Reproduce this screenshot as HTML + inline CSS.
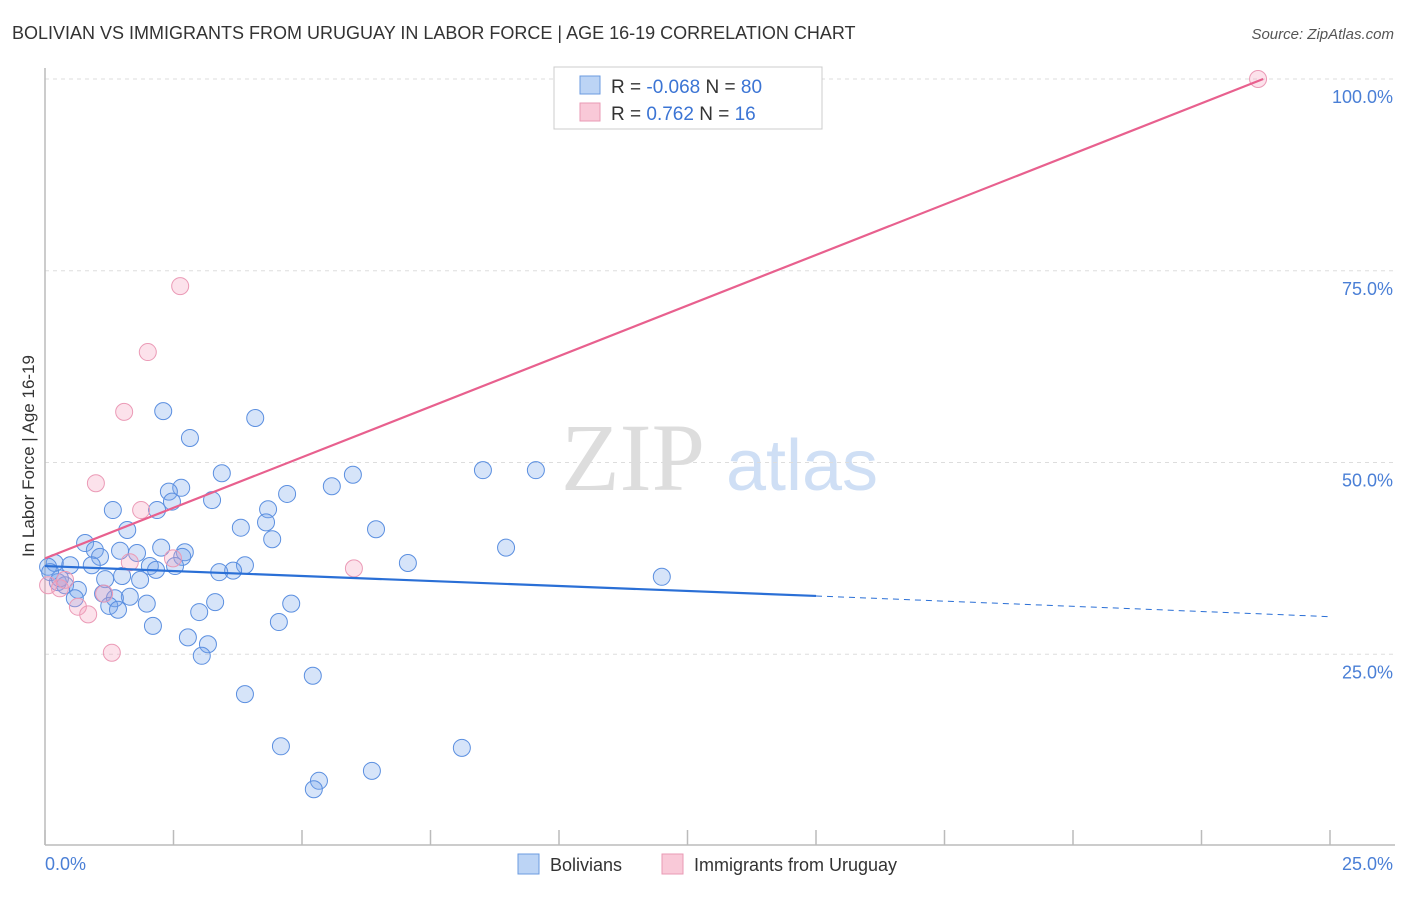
<!DOCTYPE html>
<html><head><meta charset="utf-8"><style>
body{margin:0;background:#fff;font-family:"Liberation Sans",sans-serif;}
</style></head><body>
<svg id="chart" width="1406" height="892" xmlns="http://www.w3.org/2000/svg" font-family="Liberation Sans, sans-serif">
<text x="12" y="39" font-size="18" fill="#333">BOLIVIAN VS IMMIGRANTS FROM URUGUAY IN LABOR FORCE | AGE 16-19 CORRELATION CHART</text>
<text x="1394" y="39" font-size="15" fill="#555" text-anchor="end" font-style="italic">Source: ZipAtlas.com</text>
<g>
<text x="633" y="490" font-size="96" fill="#ddd" text-anchor="middle" font-family="Liberation Serif, serif">ZIP</text>
<text x="802" y="490" font-size="72" fill="#cfdff5" text-anchor="middle">atlas</text>
</g>
<g id="grid"></g>
<line x1="45" y1="68" x2="45" y2="845" stroke="#bbb" stroke-width="1.5"/>
<line x1="45" y1="845" x2="1395" y2="845" stroke="#bbb" stroke-width="1.5"/>
<g id="xticks"></g>
<text transform="translate(34,456) rotate(-90)" font-size="17" fill="#333" text-anchor="middle">In Labor Force | Age 16-19</text>
<text x="45" y="870" font-size="18" fill="#4a7fd6">0.0%</text>
<text x="1393" y="870" font-size="18" fill="#4a7fd6" text-anchor="end">25.0%</text>
<g id="points"></g>
<g id="lines"></g>
<g>
<rect x="554" y="67" width="268" height="62" fill="#fff" stroke="#ccc"/>
<rect x="580" y="76" width="20" height="18" fill="#bcd4f5" stroke="#6b9be0"/>
<rect x="580" y="103" width="20" height="18" fill="#f9c9d8" stroke="#e99ab4"/>
<text x="611" y="93" font-size="19" fill="#333">R = <tspan fill="#3b74d4">-0.068</tspan>   N = <tspan fill="#3b74d4">80</tspan></text>
<text x="611" y="120" font-size="19" fill="#333">R =   <tspan fill="#3b74d4">0.762</tspan>   N =  <tspan fill="#3b74d4">16</tspan></text>
</g>
<g>
<rect x="518" y="854" width="21" height="20" fill="#bcd4f5" stroke="#6b9be0"/>
<text x="550" y="871" font-size="18" fill="#333">Bolivians</text>
<rect x="662" y="854" width="21" height="20" fill="#f9c9d8" stroke="#e99ab4"/>
<text x="694" y="871" font-size="18" fill="#333">Immigrants from Uruguay</text>
</g>
</svg>
<script>
const blueX=[2.30,4.09,2.82,3.44,5.99,8.52,9.55,5.58,2.65,2.41,2.47,4.71,3.25,1.32,2.18,4.34,4.30,3.81,1.60,6.44,4.42,0.78,0.97,1.46,1.79,2.26,2.72,2.67,8.97,7.06,3.89,3.66,3.39,2.53,2.04,2.16,1.07,0.91,0.49,0.19,0.06,1.17,1.50,1.85,12.00,0.25,0.39,0.64,1.13,1.65,1.36,1.98,3.31,4.79,1.25,1.42,3.00,0.58,2.10,4.55,2.78,3.17,3.05,3.89,5.21,4.59,8.11,5.33,5.23,6.36,0.29,0.10];
const blueY=[56.7,55.8,53.2,48.6,48.4,49.0,49.0,46.9,46.7,46.2,44.9,45.9,45.1,43.8,43.8,43.9,42.2,41.5,41.2,41.3,40.0,39.5,38.6,38.5,38.2,38.9,38.3,37.7,38.9,36.9,36.6,35.9,35.7,36.5,36.5,36.0,37.7,36.6,36.6,36.9,36.4,34.8,35.2,34.7,35.1,34.4,34.0,33.4,32.9,32.5,32.3,31.6,31.8,31.6,31.3,30.8,30.5,32.3,28.7,29.2,27.2,26.3,24.8,19.8,22.2,13.0,12.8,8.5,7.4,9.8,34.9,35.7];
const pinkX=[23.6,2.63,2.00,1.54,0.99,1.87,2.49,1.65,6.01,1.15,0.06,0.29,0.64,0.84,1.30,0.39];
const pinkY=[100,73.0,64.4,56.6,47.3,43.8,37.5,37.0,36.2,32.9,34.0,33.6,31.2,30.2,25.2,34.7];
const yTicks=[25,50,75,100];
const yTickLabels=["25.0%","50.0%","75.0%","100.0%"];
const xTicks=[0,2.5,5,7.5,10,12.5,15,17.5,20,22.5,25];
const blueTrend=[[0,36.5],[15,32.6],[25,29.9]];
const pinkTrend=[[0,37.5],[23.7,100]];
const NS="http://www.w3.org/2000/svg";
const sx=v=>45+v/25*1285;
const sy=v=>846-v/100*767;
function mk(tag,attrs,parent){const e=document.createElementNS(NS,tag);for(const k in attrs)e.setAttribute(k,attrs[k]);parent.appendChild(e);return e;}
const grid=document.getElementById('grid');
yTicks.forEach((t,i)=>{
 const l=mk('line',{x1:45,x2:1395,y1:sy(t),y2:sy(t),stroke:'#ddd','stroke-dasharray':'4,4'},grid);
 
 
 const tx=mk('text',{x:1393,y:sy(t)+24,'font-size':18,fill:'#4a7fd6','text-anchor':'end'},grid);
 tx.textContent=yTickLabels[i];
 
 
});
const xt=document.getElementById('xticks');
xTicks.forEach(t=>{
 const l=mk('line',{x1:sx(t),x2:sx(t),y1:830,y2:845,stroke:'#bbb','stroke-width':1.5},xt);
 
 
});
const pts=document.getElementById('points');
blueX.forEach((x,i)=>{
 const c=mk('circle',{cx:sx(x),cy:sy(blueY[i]),r:8.5,fill:'rgba(120,165,235,0.3)',stroke:'#5b8fe0','stroke-width':1},pts);
 
 
});
pinkX.forEach((x,i)=>{
 const c=mk('circle',{cx:sx(x),cy:sy(pinkY[i]),r:8.5,fill:'rgba(244,160,190,0.3)',stroke:'#eb9ab6','stroke-width':1},pts);
 
 
});
const ln=document.getElementById('lines');
const b1=mk('line',{x1:sx(blueTrend[0][0]),y1:sy(blueTrend[0][1]),x2:sx(blueTrend[1][0]),y2:sy(blueTrend[1][1]),stroke:'#2a6fd6','stroke-width':2.2},ln);


const b2=mk('line',{x1:sx(blueTrend[1][0]),y1:sy(blueTrend[1][1]),x2:sx(blueTrend[2][0]),y2:sy(blueTrend[2][1]),stroke:'#2a6fd6','stroke-width':1,'stroke-dasharray':'6,5'},ln);


const p1=mk('line',{x1:sx(pinkTrend[0][0]),y1:sy(pinkTrend[0][1]),x2:sx(pinkTrend[1][0]),y2:sy(pinkTrend[1][1]),stroke:'#e8608e','stroke-width':2.2},ln);


</script>
</body></html>
